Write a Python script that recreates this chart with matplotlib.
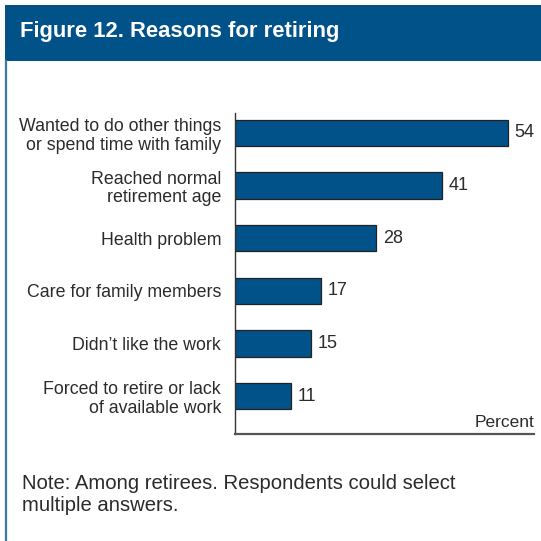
import matplotlib
matplotlib.use("Agg")
import matplotlib.pyplot as plt
from matplotlib.patches import Rectangle
from matplotlib.lines import Line2D

reasons = [
    "Wanted to do other things\nor spend time with family",
    "Reached normal\nretirement age",
    "Health problem",
    "Care for family members",
    "Didn\u2019t like the work",
    "Forced to retire or lack\nof available work",
]
percents = [54, 41, 28, 17, 15, 11]

BLUE = "#02528a"
TEXT = "#2b2b2b"
FONT = ["Liberation Sans Narrow", "Liberation Sans", "DejaVu Sans"]

W = H = 541
fig = plt.figure(figsize=(W / 100, H / 100), dpi=100)
fig.patch.set_facecolor("white")

def fx(px):
    return px / W

def fy(py):
    return 1 - py / H

# Header band and left frame rule
fig.patches.append(Rectangle((fx(5), fy(61)), fx(536), 56 / H,
                             transform=fig.transFigure, facecolor=BLUE,
                             edgecolor="none"))
fig.lines.append(Line2D([fx(6), fx(6)], [fy(61), 0], transform=fig.transFigure,
                        color="#3f78a8", lw=1.6))
fig.text(fx(20), fy(32), "Figure 12. Reasons for retiring", color="white",
         fontsize=15.8, fontweight="bold", va="center", ha="left",
         family=["Liberation Sans", "DejaVu Sans"])

# Bar chart
ax = fig.add_axes([fx(235), fy(434), fx(534) - fx(235), (434 - 113) / H])
y = list(range(len(reasons)))
ax.barh(y, percents, height=0.5, color=BLUE, edgecolor="#222222", linewidth=0.9)
ax.set_ylim(len(reasons) - 1 + 0.72, -0.38)
ax.set_xlim(0, 59.2)
ax.set_yticks(y)
ax.set_yticklabels(reasons, fontsize=12.8, color=TEXT, family=FONT,
                   linespacing=1.12, ha="right")
ax.tick_params(axis="y", length=0, pad=10)
ax.set_xticks([])
for s in ["top", "right"]:
    ax.spines[s].set_visible(False)
ax.spines["left"].set_color("#333333")
ax.spines["bottom"].set_color("#555555")
ax.spines["left"].set_linewidth(1.0)
ax.spines["bottom"].set_linewidth(1.6)

for yi, v in zip(y, percents):
    ax.annotate(str(v), (v, yi), xytext=(5, 0), textcoords="offset points",
                va="center", ha="left", fontsize=13, color=TEXT, family=FONT)

ax.text(1.0, 0.012, "Percent", transform=ax.transAxes, ha="right", va="bottom",
        fontsize=12.5, color=TEXT, family=FONT)

fig.text(fx(22), fy(494.5), "Note: Among retirees. Respondents could select\nmultiple answers.",
         fontsize=14.6, color=TEXT, va="center", ha="left", family=FONT,
         linespacing=1.22)

fig.savefig("out.png", dpi=100, facecolor="white")
